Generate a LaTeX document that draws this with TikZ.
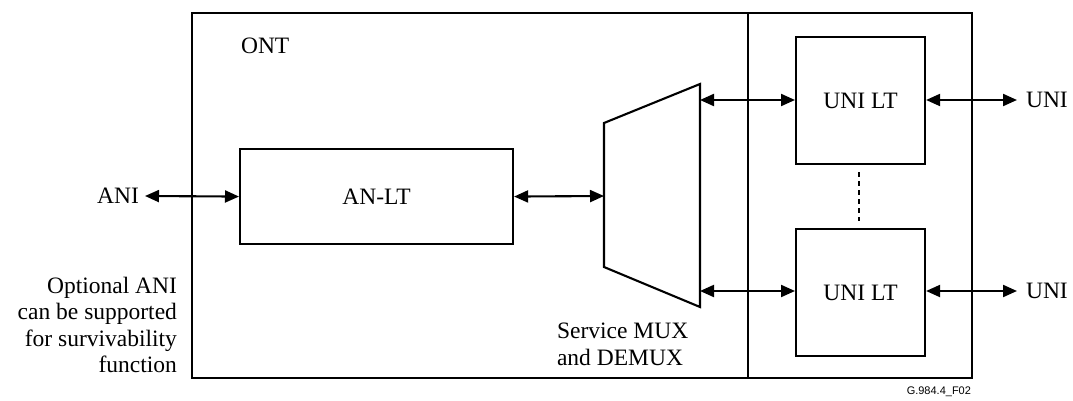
\documentclass[tikz,border=0pt]{standalone}
\usepackage{fontspec}
\setmainfont{Liberation Serif}
\newfontfamily\figsans{Liberation Sans}
\usetikzlibrary{arrows.meta}
\begin{document}
\begin{tikzpicture}[x=1pt,y=-1pt,
  line width=2.1pt,
  box/.style={draw,line width=2.1pt,inner sep=0pt,anchor=north west},
  lbl/.style={font=\fontsize{23.5}{26.5}\selectfont,inner sep=0pt},
  biarrow/.style={line width=2.1pt,{Triangle[length=14pt,width=12pt]}-{Triangle[length=14pt,width=12pt]}}]
\useasboundingbox (0,0) rectangle (1073,401);
% outer frame
\draw (192,13) rectangle (972,378);
\draw (748,13) -- (748,378);
% AN-LT
\node[box,minimum width=273pt,minimum height=95pt] (anlt) at (239,148) {};
\node[lbl] at (anlt.center) {AN-LT};
% mux
\coordinate (mtl) at (604,123);
\coordinate (mbl) at (604,267);
\coordinate (mtr) at (700,84);
\coordinate (mbr) at (700,307);
\draw (mtl) -- (mtr) -- (mbr) -- (mbl) -- cycle;
\coordinate (min) at (604,196);
\coordinate (mo1) at (700,100);
\coordinate (mo2) at (700,291);
% UNI LT boxes
\node[box,minimum width=129pt,minimum height=127pt] (u1) at (795,36) {};
\node[lbl] at (u1.center) {UNI LT};
\node[box,minimum width=129pt,minimum height=127pt] (u2) at (795,228) {};
\node[lbl] at (u2.center) {UNI LT};
\draw[dash pattern=on 5pt off 4pt,line width=2pt] (859,172) -- (859,221);
% labels
\node[lbl,anchor=east] (ani) at (140,196) {ANI};
\node[lbl,anchor=west] (uni1) at (1025,100) {UNI};
\node[lbl,anchor=west] (uni2) at (1025,291) {UNI};
\node[lbl,anchor=north west] (ont) at (240,37) {ONT};
\node[lbl,align=left,anchor=north west] (smux) at (556,322) {Service MUX\\and DEMUX};
\node[lbl,align=right,anchor=north east] (opt) at (178,276) {Optional ANI\\can be supported\\for survivability\\function};
\node[font=\figsans\fontsize{11}{13}\selectfont,anchor=north east,inner sep=0pt] (fig) at (972,386) {G.984.4\_F02};
% connectors
\draw[biarrow] ([xshift=5pt]ani.east) -- (anlt.west);
\draw[biarrow] (anlt.east) -- (min);
\draw[biarrow] (mo1) -- (u1.west |- mo1);
\draw[biarrow] (mo2) -- (u2.west |- mo2);
\draw[biarrow] (u1.east |- mo1) -- ([xshift=-8pt]uni1.west);
\draw[biarrow] (u2.east |- mo2) -- ([xshift=-8pt]uni2.west);
\end{tikzpicture}
\end{document}
